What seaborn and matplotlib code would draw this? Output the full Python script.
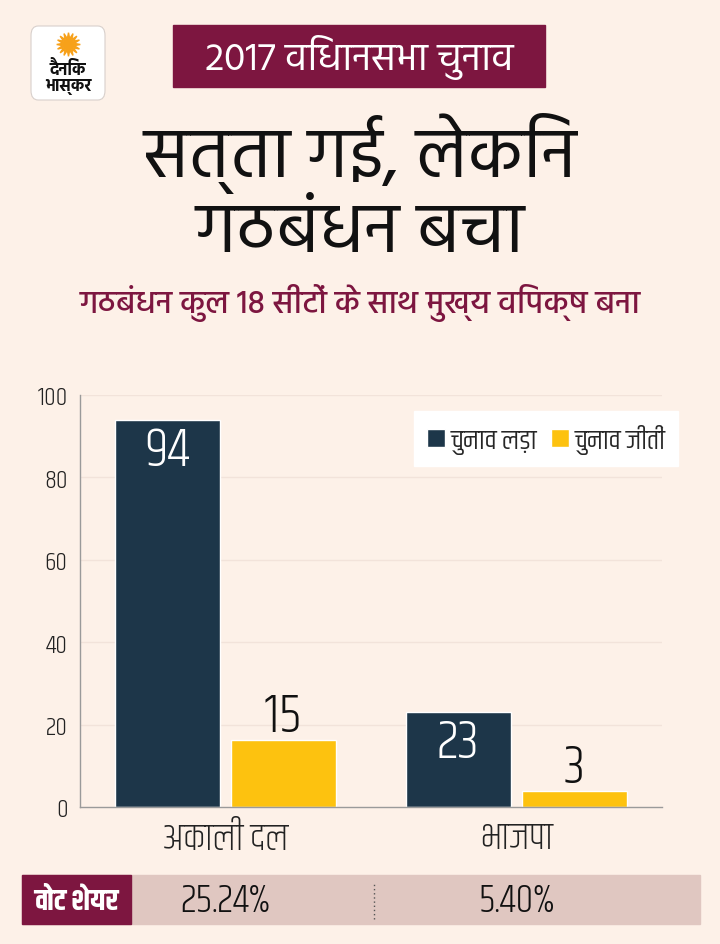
import matplotlib
matplotlib.use("Agg")
import matplotlib.pyplot as plt
import matplotlib.transforms as mtransforms
from matplotlib.patches import Rectangle, FancyBboxPatch
from matplotlib import font_manager
import seaborn as sns
import pandas as pd

# data
parties = ["अकाली दल", "भाजपा"]
contested = [94, 23]
won = [15, 3]
won_drawn = [16.3, 4]          # yellow bars are drawn a bit taller than their labels
vote_share = ["25.24%", "5.40%"]
series = ["चुनाव लड़ा", "चुनाव जीतीं"]
yticks = [0, 20, 40, 60, 80, 100]

BG = "#fdf1e8"
MAROON = "#7d1640"
NAVY = "#1d3649"
YELLOW = "#fdc20f"


def pick_font(names):
    for n in names:
        try:
            font_manager.findfont(n, fallback_to_default=False)
            return n
        except Exception:
            pass
    return "DejaVu Sans"


COND = pick_font(["Khand", "Rajdhani", "Teko", "Mukta"])
HEAD = pick_font(["Hind", "Mukta", "Khand"])

sns.set_theme(style="white")
plt.rcParams["font.family"] = [COND, "DejaVu Sans"]

df = pd.DataFrame({
    "party": parties * 2,
    "series": [series[0]] * 2 + [series[1]] * 2,
    "seats": contested + won_drawn,
})

fig = plt.figure(figsize=(7.2, 9.45), dpi=100, facecolor=BG)
ax = fig.add_axes([80 / 720, 1 - 808 / 945, 582 / 720, 412 / 945])
ax.set_facecolor(BG)

sns.barplot(data=df, x="party", y="seats", hue="series", order=parties,
            hue_order=series, palette=[NAVY, YELLOW], width=0.8, gap=0.1,
            saturation=1, ax=ax)

ax.set_xlim(-0.5, 1.5)
ax.set_ylim(0, 100)
ax.set_yticks(yticks)
ax.set_yticklabels([str(t) for t in yticks], fontsize=19, color="#222222",
                   fontweight="light")
ax.set_xticks([0.5, 1.5], minor=True)
ax.set_xticks([0, 1])
ax.set_xticklabels(parties, fontsize=27, color="#222222", fontweight="light")
ax.tick_params(axis="x", which="major", length=0, pad=10)
ax.tick_params(axis="x", which="minor", length=7, color="#bbbbbb", direction="in")
ax.tick_params(axis="y", length=0, pad=9)
ax.set_xlabel("")
ax.set_ylabel("")
for t in yticks[1:]:
    ax.axhline(t, color="#f2e3da", lw=1, zorder=0)
for s in ["top", "right"]:
    ax.spines[s].set_visible(False)
ax.spines["left"].set_color("#9a9a9a")
ax.spines["bottom"].set_color("#9a9a9a")
ax.spines["left"].set_linewidth(1)
ax.spines["bottom"].set_linewidth(1)

# bar labels
bars_c, bars_w = ax.containers[0], ax.containers[1]
for rect, v in zip(bars_c, contested):
    ax.text(rect.get_x() + rect.get_width() / 2, rect.get_height() - 1.2, str(v),
            ha="center", va="top", color="white", fontsize=40, fontweight="light")
for rect, v in zip(bars_w, won):
    ax.text(rect.get_x() + rect.get_width() / 2, rect.get_height() + 0.2, str(v),
            ha="center", va="bottom", color="#111111", fontsize=40,
            fontweight="light")

leg = ax.legend(loc="upper right", bbox_to_anchor=(1.027, 0.96), ncol=2,
                frameon=True, fancybox=False, fontsize=20, handlelength=0.65,
                handleheight=0.65, handletextpad=0.2, columnspacing=0.5,
                borderpad=0.45, borderaxespad=0, title=None)
leg.get_frame().set_facecolor("white")
leg.get_frame().set_edgecolor("white")
leg.get_frame().set_alpha(1)

# vote share strip
fig.add_artist(Rectangle((22 / 720, 1 - 925 / 945), 678 / 720, 49 / 945,
                         transform=fig.transFigure, color="#e0c7c1", zorder=1))
fig.add_artist(Rectangle((22 / 720, 1 - 925 / 945), 109 / 720, 49 / 945,
                         transform=fig.transFigure, color=MAROON, zorder=2))
fig.text(76 / 720, 1 - 901 / 945, "वोट शेयर", ha="center", va="center",
         color="white", fontsize=21, fontweight="bold", zorder=3)
strip = mtransforms.blended_transform_factory(ax.transData, fig.transFigure)
for i, v in enumerate(vote_share):
    fig.text(i, 1 - 901 / 945, v, transform=strip, ha="center", va="center",
             fontsize=29, color="#111111", fontweight="light", zorder=3)
fig.add_artist(plt.Line2D([0.51, 0.51], [1 - 920 / 945, 1 - 883 / 945],
                          transform=strip, color="#555555", lw=1,
                          linestyle=(0, (1, 2)), zorder=3))

# header
fig.add_artist(Rectangle((173 / 720, 1 - 88 / 945), 372 / 720, 62 / 945,
                         transform=fig.transFigure, color=MAROON))
fig.text(359 / 720, 1 - 58 / 945, "2017 विधानसभा चुनाव", ha="center",
         va="center", color="white", fontsize=28, family=[HEAD, "DejaVu Sans"])
fig.text(360 / 720, 1 - 153 / 945, "सत्ता गई, लेकिन", ha="center", va="center",
         color="#111111", fontsize=51, family=[HEAD, "DejaVu Sans"])
fig.text(360 / 720, 1 - 233 / 945, "गठबंधन बचा", ha="center", va="center",
         color="#111111", fontsize=51, family=[HEAD, "DejaVu Sans"])
fig.text(360 / 720, 1 - 303 / 945, "गठबंधन कुल 18 सीटों के साथ मुख्य विपक्ष बना",
         ha="center", va="center", color=MAROON, fontsize=23, fontweight="medium",
         family=[HEAD, "DejaVu Sans"])

# logo
fig.add_artist(FancyBboxPatch((31 / 720, 1 - 101 / 945), 74 / 720, 74 / 945,
                              boxstyle="round,pad=0,rounding_size=0.01",
                              transform=fig.transFigure, facecolor="white",
                              edgecolor="#d8d0cc", lw=0.8))
fig.add_artist(plt.Line2D([68 / 720], [1 - 45 / 945], marker=(16, 1, 0),
                          markersize=17, color="#f7a11a", transform=fig.transFigure))
fig.text(68 / 720, 1 - 69 / 945, "दैनिक", ha="center", va="center", fontsize=12,
         fontweight="bold", color="#111111", family=[HEAD, "DejaVu Sans"])
fig.text(68 / 720, 1 - 87 / 945, "भास्कर", ha="center", va="center", fontsize=12,
         fontweight="bold", color="#111111", family=[HEAD, "DejaVu Sans"])

fig.savefig("out.png", dpi=100, facecolor=BG)
